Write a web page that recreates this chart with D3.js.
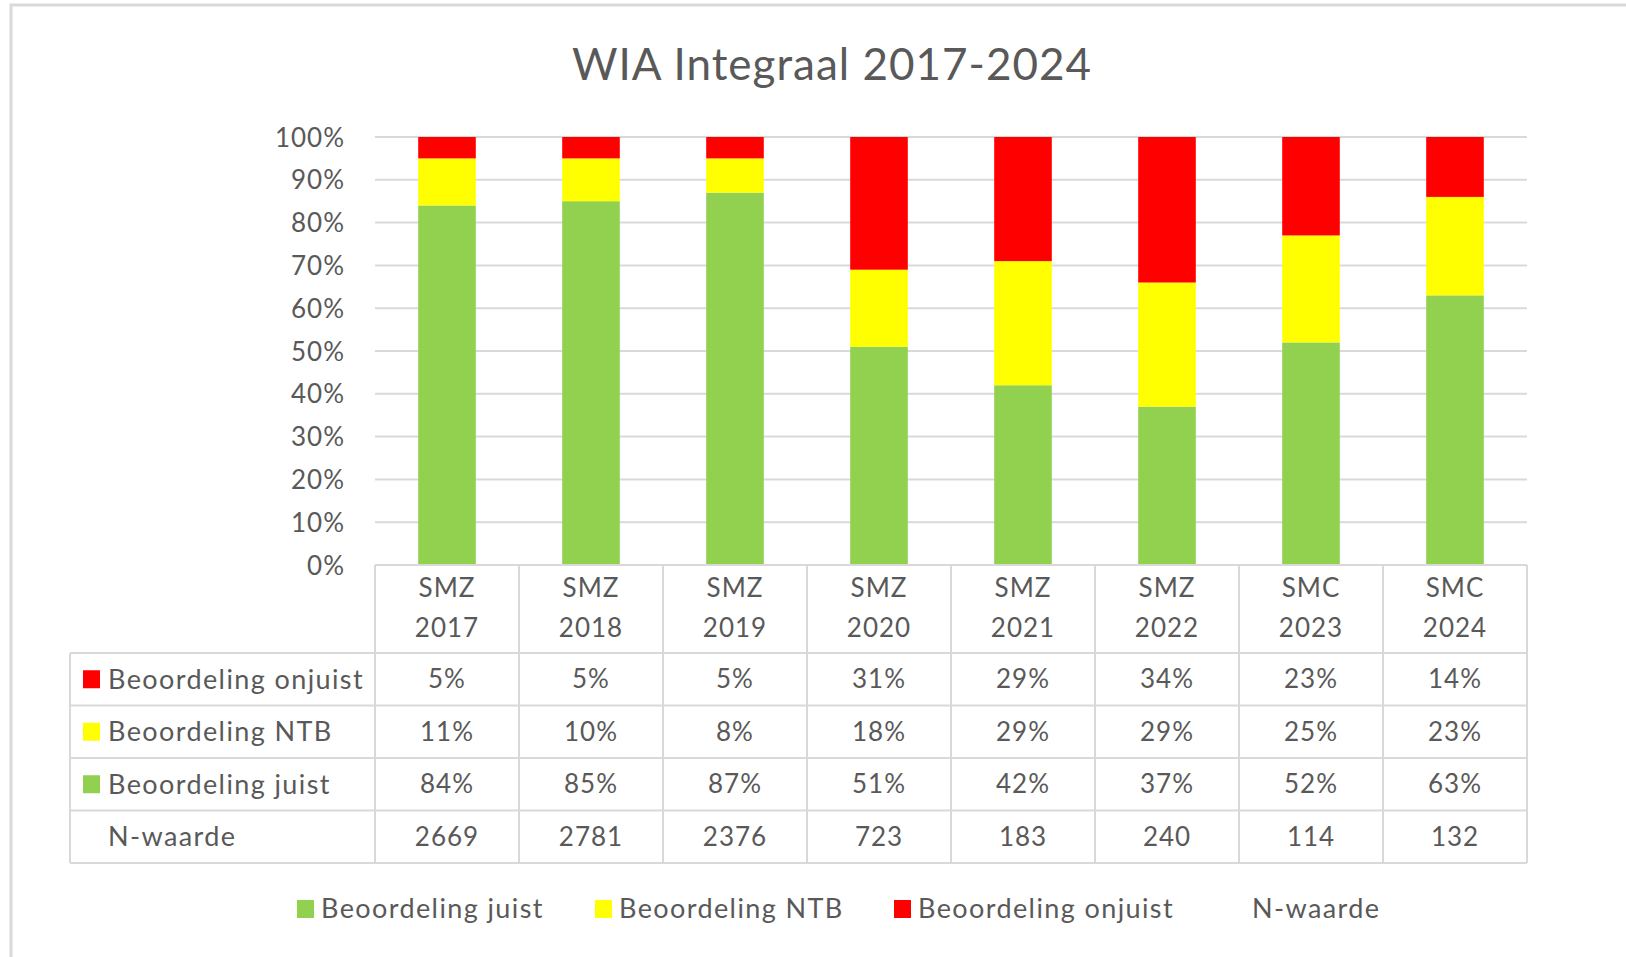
<!DOCTYPE html>
<html>
<head>
<meta charset="utf-8">
<script src="https://cdn.jsdelivr.net/npm/d3@7"></script>
<style>
  body { margin: 0; background: #fff; }
  svg text { font-family: Lato, "Open Sans", sans-serif; fill: #595959; }
  .axis .domain { display: none; }
  .axis .tick line { display: none; }
  .label { font-size: 27px; letter-spacing: 1.4px; }
  .num { font-size: 26px; letter-spacing: 1px; }
</style>
</head>
<body>
<div class="wrapper"></div>
<script>
const categories = ['SMZ 2017', 'SMZ 2018', 'SMZ 2019', 'SMZ 2020', 'SMZ 2021', 'SMZ 2022', 'SMC 2023', 'SMC 2024'];
const juist = [84, 85, 87, 51, 42, 37, 52, 63];
const ntb = [11, 10, 8, 18, 29, 29, 25, 23];
const onjuist = [5, 5, 5, 31, 29, 34, 23, 14];
const nWaarde = [2669, 2781, 2376, 723, 183, 240, 114, 132];
const yTicks = [0, 10, 20, 30, 40, 50, 60, 70, 80, 90, 100];

const series = [
  {name: 'Beoordeling juist', values: juist, color: '#92D050'},
  {name: 'Beoordeling NTB', values: ntb, color: '#FFFF00'},
  {name: 'Beoordeling onjuist', values: onjuist, color: '#FF0000'}
];

const w = 1626, h = 957;
const plot = {left: 375, right: 1527, top: 137, bottom: 565};
const tableLeft = 70;
const headerBottom = 653;
const rowH = 52.5;
const gridColor = '#d9d9d9';

const svg = d3.select('.wrapper').append('svg')
  .attr('width', w)
  .attr('height', h);

// chart frame
svg.append('path')
  .attr('d', `M11,${h} L11,5 L${w},5`)
  .attr('fill', 'none')
  .attr('stroke', gridColor)
  .attr('stroke-width', 3);

svg.append('text')
  .text('WIA Integraal 2017-2024')
  .attr('x', 832)
  .attr('y', 80)
  .attr('text-anchor', 'middle')
  .style('font-size', '44px')
  .style('letter-spacing', '1px');

let xScale = d3.scaleBand()
  .domain(categories)
  .range([plot.left, plot.right])
  .paddingInner(0.6)
  .paddingOuter(0.3);

let yScale = d3.scaleLinear()
  .domain([0, 100])
  .range([plot.bottom, plot.top]);

// gridlines
svg.append('g')
  .selectAll('line')
  .data(yTicks.slice(1))
  .enter().append('line')
  .attr('x1', plot.left)
  .attr('x2', plot.right)
  .attr('y1', d => yScale(d))
  .attr('y2', d => yScale(d))
  .attr('stroke', gridColor)
  .attr('stroke-width', 2);

let yaxis = svg.append('g')
  .attr('class', 'axis')
  .attr('transform', 'translate(' + (plot.left - 12) + ',0)')
  .call(d3.axisLeft(yScale).tickValues(yTicks).tickSize(0).tickFormat(d => d + '%'))
  .selectAll('text')
  .attr('class', 'num')
  .attr('x', -18)
  .attr('dy', '0.35em');

// stacked bars
const stack = d3.stack()
  .keys(series.map((s, i) => i))
  .value((d, k) => series[k].values[d]);

const stacked = stack(categories.map((c, i) => i));

svg.append('g')
  .selectAll('g')
  .data(stacked)
  .enter().append('g')
  .attr('fill', d => series[d.key].color)
  .selectAll('rect')
  .data(d => d)
  .enter().append('rect')
  .attr('x', (d, i) => xScale(categories[i]))
  .attr('width', xScale.bandwidth())
  .attr('y', d => yScale(d[1]))
  .attr('height', d => yScale(d[0]) - yScale(d[1]));

// data table
const step = xScale.step();
const rows = [
  {name: 'Beoordeling onjuist', color: '#FF0000', cells: onjuist.map(v => v + '%')},
  {name: 'Beoordeling NTB', color: '#FFFF00', cells: ntb.map(v => v + '%')},
  {name: 'Beoordeling juist', color: '#92D050', cells: juist.map(v => v + '%')},
  {name: 'N-waarde', color: null, cells: nWaarde.map(String)}
];
const tableBottom = headerBottom + rows.length * rowH;

const table = svg.append('g');

// horizontal lines
table.append('line')
  .attr('x1', plot.left).attr('x2', plot.right)
  .attr('y1', plot.bottom).attr('y2', plot.bottom);
d3.range(rows.length + 1).forEach(r => {
  table.append('line')
    .attr('x1', tableLeft).attr('x2', plot.right)
    .attr('y1', headerBottom + r * rowH).attr('y2', headerBottom + r * rowH);
});
// vertical lines
table.append('line')
  .attr('x1', tableLeft).attr('x2', tableLeft)
  .attr('y1', headerBottom).attr('y2', tableBottom);
d3.range(categories.length + 1).forEach(c => {
  const x = plot.left + c * step;
  table.append('line')
    .attr('x1', x).attr('x2', x)
    .attr('y1', plot.bottom).attr('y2', tableBottom);
});
table.selectAll('line')
  .attr('stroke', gridColor)
  .attr('stroke-width', 2);

// category headers
categories.forEach(c => {
  const cx = xScale(c) + xScale.bandwidth() / 2;
  const parts = c.split(' ');
  parts.forEach((p, j) => {
    svg.append('text')
      .text(p)
      .attr('class', 'num')
      .attr('x', cx)
      .attr('y', 588 + j * 40)
      .attr('dy', '0.35em')
      .attr('text-anchor', 'middle');
  });
});

rows.forEach((r, i) => {
  const cy = headerBottom + i * rowH + rowH / 2;
  if (r.color) {
    svg.append('rect')
      .attr('x', 83).attr('y', cy - 9)
      .attr('width', 17).attr('height', 18)
      .attr('fill', r.color);
  }
  svg.append('text')
    .text(r.name)
    .attr('class', 'label')
    .attr('x', 108)
    .attr('y', cy)
    .attr('dy', '0.35em');
  r.cells.forEach((v, j) => {
    svg.append('text')
      .text(v)
      .attr('class', 'num')
      .attr('x', xScale(categories[j]) + xScale.bandwidth() / 2)
      .attr('y', cy)
      .attr('dy', '0.35em')
      .attr('text-anchor', 'middle');
  });
});

// legend
const legendItems = [
  {name: 'Beoordeling juist', color: '#92D050', x: 297},
  {name: 'Beoordeling NTB', color: '#FFFF00', x: 595},
  {name: 'Beoordeling onjuist', color: '#FF0000', x: 894},
  {name: 'N-waarde', color: null, x: 1228}
];
const legend = svg.append('g').attr('transform', 'translate(0,909)');
legendItems.forEach(l => {
  if (l.color) {
    legend.append('rect')
      .attr('x', l.x).attr('y', -9)
      .attr('width', 17).attr('height', 18)
      .attr('fill', l.color);
  }
  legend.append('text')
    .text(l.name)
    .attr('class', 'label')
    .attr('x', l.x + 24)
    .attr('dy', '0.35em');
});
</script>
</body>
</html>
